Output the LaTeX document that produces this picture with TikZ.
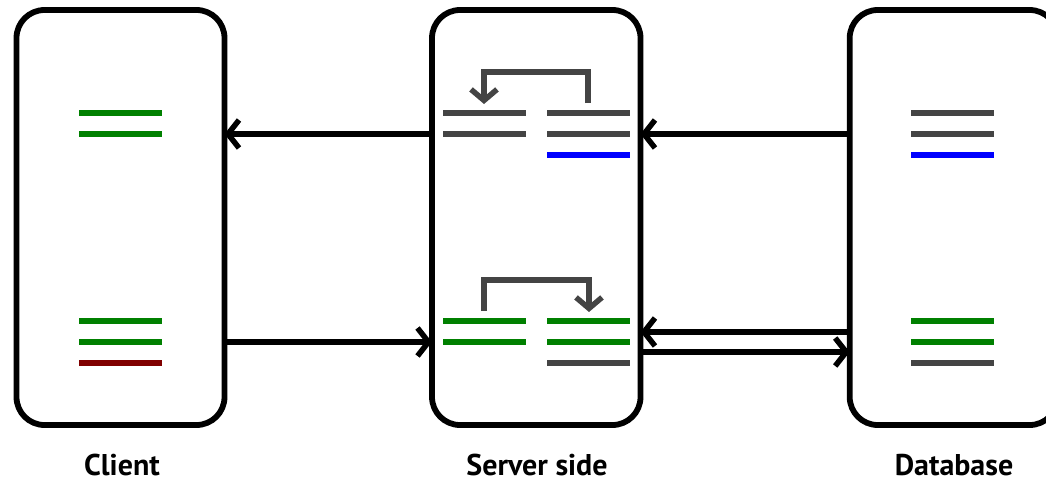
\documentclass[tikz,border=0pt]{standalone}
\usepackage{fontspec}
\setmainfont{PT Sans}
\usetikzlibrary{arrows.meta}
\definecolor{ink}{HTML}{000000}
\definecolor{slate}{HTML}{444444}
\definecolor{leaf}{HTML}{008000}
\definecolor{sky}{HTML}{0000FF}
\definecolor{wine}{HTML}{800000}
\tikzset{
  panel/.style={draw=ink, line width=5.8pt, rounded corners=28pt,
    minimum width=208pt, minimum height=415pt, inner sep=0pt, outer sep=0pt},
  bar/.style={line width=5.5pt},
  link/.style={draw=ink, line width=5.5pt,
    -{Straight Barb[length=11pt,width=28pt,line width=5.5pt]}},
  hook/.style={draw=slate, line width=5.5pt, miter limit=10,
    -{Straight Barb[length=11pt,width=26pt,line width=5.5pt]}},
  caption/.style={font=\bfseries\fontsize{30}{33}\selectfont, anchor=base,
    inner sep=0pt, text depth=0pt}
}
\begin{document}
\begin{tikzpicture}[x=1pt,y=-1pt]
\useasboundingbox (0,0) rectangle (1046,482);

% the three tiers
\begin{scope}
  \clip (0,0) rectangle (1046,482);
  \node[panel] (client) at (120.5,217.5) {};
  \node[panel, minimum width=208.5pt] (server) at (536.25,217.5) {};
  \node[panel] (db) at (953.7,217.5) {};
\end{scope}

% client records
\draw[bar, leaf] (79,113) -- (162,113);
\draw[bar, leaf] (79,134) -- (162,134);
\draw[bar, leaf] (79,321) -- (162,321);
\draw[bar, leaf] (79,342) -- (162,342);
\draw[bar, wine] (79,363) -- (162,363);

% server records, read path
\draw[bar, slate] (443,113) -- (526,113);
\draw[bar, slate] (443,134) -- (526,134);
\draw[bar, slate] (547,113) -- (630,113);
\draw[bar, slate] (547,134) -- (630,134);
\draw[bar, sky]   (547,155) -- (630,155);

% server records, write path
\draw[bar, leaf]  (443,321) -- (526,321);
\draw[bar, leaf]  (443,342) -- (526,342);
\draw[bar, leaf]  (547,321) -- (630,321);
\draw[bar, leaf]  (547,342) -- (630,342);
\draw[bar, slate] (547,363) -- (630,363);

% database records
\draw[bar, slate] (911,113) -- (994,113);
\draw[bar, slate] (911,134) -- (994,134);
\draw[bar, sky]   (911,155) -- (994,155);
\draw[bar, leaf]  (911,321) -- (994,321);
\draw[bar, leaf]  (911,342) -- (994,342);
\draw[bar, slate] (911,363) -- (994,363);

% copy brackets inside the server
\coordinate (rdFrom) at (588,103);
\coordinate (rdTo)   at (484,104);
\coordinate (wrFrom) at (484,311);
\coordinate (wrTo)   at (589,312);
\draw[hook] (rdFrom) -- (rdFrom |- 0,72) -| (rdTo);
\draw[hook] (wrFrom) -- (wrFrom |- 0,280) -| (wrTo);

% traffic between tiers
\draw[link] (server.west |- 0,134) -- (client.east |- 0,134);
\draw[link] (db.west |- 0,134) -- (server.east |- 0,134);
\draw[link] (client.east |- 0,342) -- (server.west |- 0,342);
\draw[link] (db.west |- 0,332) -- (server.east |- 0,332);
\draw[link] (server.east |- 0,352) -- (db.west |- 0,352);

% tier captions
\node[caption] (capC) at (122,475) {Client};
\node[caption] (capS) at (537,475) {Server side};
\node[caption] (capD) at (954,475) {Database};
\end{tikzpicture}
\end{document}
